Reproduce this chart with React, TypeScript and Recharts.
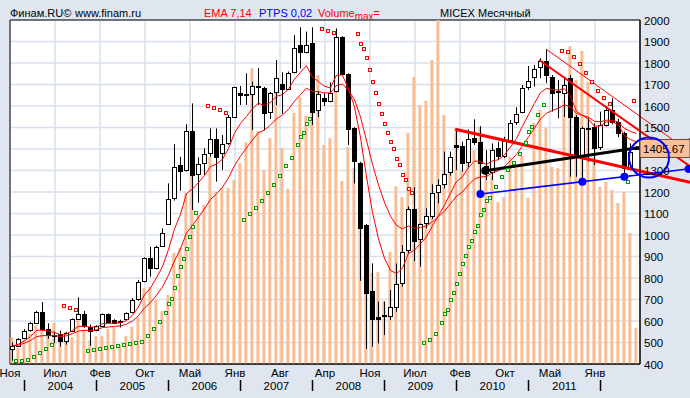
import React from "react";
import {
  ComposedChart,
  Bar,
  Line,
  XAxis,
  YAxis,
  CartesianGrid,
  ReferenceLine,
  ReferenceDot,
  ReferenceArea,
} from "recharts";

const _ = null;

// MICEX monthly candles, Nov 2003 .. Jul 2012 (index 0 = Nov 2003)
const opens = [
  472, 485, 520, 557, 592, 640, 561, 535, 540, 505,
  552, 611, 633, 574, 558, 577, 631, 603, 602, 608,
  642, 701, 785, 892, 845, 949, 1051, 1171, 1324, 1302,
  1482, 1284, 1333, 1380, 1445, 1380, 1429, 1550, 1660, 1658,
  1654, 1690, 1682, 1570, 1663, 1701, 1680, 1756, 1884, 1850,
  1892, 1580, 1636, 1625, 1670, 1920, 1748, 1496, 1333, 1047,
  740, 617, 630, 625, 663, 775, 930, 1121, 982, 1054,
  1090, 1198, 1236, 1291, 1417, 1414, 1338, 1453, 1431, 1321,
  1295, 1403, 1367, 1442, 1527, 1574, 1687, 1734, 1780, 1811,
  1736, 1670, 1662, 1729, 1547, 1364, 1499, 1504, 1408, 1513,
  1581, 1527, 1473, 1318, 1398,
];
const highs = [
  500, 520, 562, 595, 647, 688, 589, 550, 555, 548,
  612, 710, 647, 583, 580, 635, 635, 608, 606, 640,
  707, 791, 896, 945, 950, 1031, 1240, 1423, 1364, 1515,
  1612, 1361, 1403, 1496, 1496, 1465, 1558, 1690, 1693, 1752,
  1713, 1777, 1689, 1665, 1814, 1757, 1760, 1930, 1966, 1946,
  1966, 1670, 1660, 1710, 1961, 1925, 1752, 1501, 1341, 1051,
  868, 690, 690, 744, 868, 953, 1132, 1222, 1054, 1124,
  1236, 1259, 1388, 1388, 1488, 1434, 1491, 1538, 1506, 1395,
  1426, 1434, 1457, 1535, 1594, 1698, 1786, 1791, 1822, 1864,
  1744, 1721, 1736, 1744, 1558, 1504, 1543, 1519, 1574, 1600,
  1636, 1540, 1481, 1426, 1414,
];
const lows = [
  415, 482, 515, 550, 586, 555, 518, 497, 481, 490,
  548, 605, 568, 485, 552, 572, 590, 585, 570, 605,
  636, 694, 780, 806, 840, 945, 1047, 1160, 1206, 1295,
  1116, 1150, 1279, 1364, 1248, 1302, 1419, 1545, 1605, 1605,
  1488, 1605, 1488, 1540, 1605, 1563, 1675, 1752, 1775, 1845,
  1512, 1548, 1600, 1617, 1664, 1745, 1419, 1240, 787, 470,
  481, 496, 535, 605, 643, 760, 915, 879, 853, 1031,
  1074, 1147, 1217, 1276, 1302, 1295, 1315, 1419, 1191, 1256,
  1256, 1349, 1357, 1434, 1512, 1566, 1674, 1690, 1730, 1706,
  1574, 1543, 1550, 1271, 1271, 1248, 1341, 1326, 1395, 1505,
  1515, 1455, 1264, 1302, 1395,
];
const closes = [
  484, 516, 552, 589, 640, 564, 536, 530, 505, 545,
  608, 633, 577, 555, 577, 631, 595, 592, 595, 636,
  698, 781, 892, 845, 943, 1008, 1166, 1315, 1300, 1482,
  1279, 1329, 1375, 1445, 1364, 1421, 1547, 1687, 1653, 1652,
  1693, 1692, 1569, 1659, 1729, 1677, 1752, 1868, 1850, 1882,
  1574, 1654, 1625, 1659, 1920, 1748, 1493, 1346, 1031, 732,
  609, 610, 622, 664, 771, 920, 1121, 974, 1050, 1087,
  1194, 1233, 1282, 1364, 1410, 1333, 1445, 1434, 1336, 1287,
  1395, 1367, 1437, 1520, 1563, 1682, 1718, 1771, 1811, 1742,
  1662, 1665, 1698, 1547, 1364, 1496, 1492, 1403, 1513, 1581,
  1527, 1473, 1310, 1388, 1405.67,
];

// EMA 7 and EMA 14
const ema7 = [
  484, 492, 507, 528, 556, 558, 552, 547, 536, 539,
  556, 575, 576, 571, 572, 587, 589, 590, 591, 602,
  626, 665, 722, 753, 800, 852, 931, 1027, 1095, 1192,
  1214, 1243, 1276, 1318, 1330, 1352, 1401, 1473, 1518, 1551,
  1587, 1613, 1602, 1616, 1645, 1653, 1678, 1725, 1756, 1788,
  1734, 1714, 1692, 1684, 1743, 1744, 1681, 1598, 1456, 1275,
  1108, 984, 893, 836, 820, 845, 914, 929, 959, 991,
  1042, 1090, 1138, 1194, 1248, 1270, 1313, 1344, 1342, 1328,
  1345, 1350, 1372, 1409, 1448, 1506, 1559, 1612, 1662, 1682,
  1677, 1674, 1680, 1647, 1576, 1556, 1540, 1506, 1508, 1526,
  1526, 1513, 1462, 1444, 1434,
];
const ema14 = [
  484, 488, 497, 509, 527, 532, 532, 532, 528, 531,
  541, 553, 556, 556, 559, 569, 572, 575, 577, 585,
  600, 624, 660, 685, 719, 758, 812, 879, 935, 1008,
  1044, 1082, 1121, 1165, 1191, 1222, 1265, 1321, 1366, 1404,
  1442, 1476, 1488, 1511, 1540, 1558, 1584, 1622, 1652, 1683,
  1668, 1667, 1661, 1661, 1695, 1702, 1674, 1631, 1551, 1442,
  1331, 1234, 1153, 1088, 1045, 1029, 1041, 1032, 1035, 1042,
  1062, 1085, 1111, 1145, 1180, 1200, 1233, 1260, 1270, 1272,
  1289, 1299, 1318, 1345, 1374, 1415, 1455, 1497, 1539, 1566,
  1579, 1590, 1605, 1597, 1566, 1557, 1548, 1529, 1527, 1534,
  1533, 1525, 1496, 1482, 1472,
];

// parabolic (PTPS 0,02): one dot per month, plus the extra in-between dots
const sarMain = [
  413, 413, 417, 431, 450, 468, 487, _, 668, 659,
  650, _, 459, 464, 468, 473, 478, 483, 487, 491,
  496, 504, 529, 561, 594, 636, 704, 808, 890, 989,
  1101, _, 1600, 1589, 1580, 1566, _, _, 1068, 1096,
  1124, 1157, 1194, 1231, 1273, 1320, 1357, 1418, 1473, 1538,
  _, 1958, 1947, 1938, _, _, _, 1933, 1864, 1766,
  1659, 1561, 1473, 1399, 1324, 1254, 1194, _, 496, 510,
  538, 589, 650, 729, 817, 901, 971, 1044, 1115, 1171,
  1222, 1268, 1301, 1333, 1375, 1430, 1502, 1557, 1606, _,
  _, 1854, 1850, 1826, 1795, 1752, 1710, 1668, 1635, 1609,
  _, _, 1245, 1623, _,
];
const sarHalf = [
  _, _, _, _, _, _, _, _, _, _,
  _, _, _, _, _, _, _, _, _, _,
  _, _, _, _, _, 678, 752, 850, 934, 1036,
  _, _, _, _, _, _, _, _, _, _,
  _, _, _, _, _, _, _, 1454, 1516, _,
  _, _, _, _, _, _, _, 1887, 1822, 1710,
  1608, 1515, 1431, 1352, 1278, 1214, _, _, _, _,
  _, 631, 698, 771, 864, 943, 1012, 1091, 1157, _,
  _, _, _, _, _, 1478, _, _, _, _,
  _, _, _, _, _, _, _, _, _, _,
  _, _, _, _, _,
];

// volume, % of the max month
const volume = [
  7.8, 4.7, 7.0, 8.7, 11.3, 10.8, 9.6, 11.9, 8.4, 9.3,
  7.8, 14.8, 10.2, 7.0, 8.1, 8.1, 10.2, 10.8, 5.5, 8.1,
  10.8, 13.4, 22.1, 22.4, 18.6, 15.4, 20.1, 32.3, 33.7, 49.7,
  62.2, 43.3, 46.2, 60.2, 50.0, 51.2, 51.2, 53.5, 58.4, 64.5,
  86.0, 67.7, 56.1, 65.7, 78.8, 62.8, 50.9, 73.0, 77.6, 72.1,
  73.8, 84.0, 63.7, 65.7, 79.1, 53.2, 63.1, 57.0, 39.5, 31.7,
  26.5, 26.7, 18.3, 32.6, 51.7, 48.5, 67.2, 83.4, 75.3, 76.5,
  88.4, 100, 72.4, 59.3, 68.6, 56.4, 65.1, 62.2, 68.9, 55.5,
  54.9, 47.1, 48.5, 60.2, 57.0, 60.5, 48.3, 70.1, 73.8, 68.6,
  57.3, 57.0, 76.7, 92.4, 82.6, 91.0, 82.0, 60.2, 51.5, 52.9,
  50.6, 46.8, 50.0, 38.1, 10.5,
];

const monthLabels = ["Ноя", "Июл", "Фев", "Окт", "Май", "Янв", "Авг", "Апр", "Ноя", "Июл", "Фев", "Окт", "Май", "Янв"];
const yearLabels = ["2004", "2005", "2006", "2007", "2008", "2009", "2010", "2011"];
const priceTicks = [400, 500, 600, 700, 800, 900, 1000, 1100, 1200, 1300, 1400, 1500, 1600, 1700, 1800, 1900, 2000];
const lastPrice = 1405.67;

// hand-drawn studies: (month index, price)
const neckline = [{ x: 73.8, y: 1492 }, { x: 112.95, y: 1245 }];
const blackTrend = [{ x: 78.8, y: 1299 }, { x: 112.95, y: 1442 }];
const blueTrend = [{ x: 78, y: 1191 }, { x: 112.95, y: 1308 }];
const channelMain = [{ x: 87.8, y: 1814 }, { x: 112.95, y: 1319 }];
const channelTop = [{ x: 89, y: 1864 }, { x: 112.95, y: 1385 }];
const blueAnchors = [{ x: 78, y: 1191 }, { x: 95, y: 1248 }, { x: 102, y: 1271 }, { x: 112.7, y: 1307 }];
const ringCenter = { x: 106.1, y: 1360 };

const FONT = "Arial, 'Liberation Sans', sans-serif";
const FS = 11.5;
const HFS = 11;
const X_MIN = -0.4;
const X_MAX = 104.6;
const monthTicks = monthLabels.map((m, k) => X_MIN + 7.5 * k);
const yearSeps = yearLabels.map((y, k) => 2 + 12 * k).concat([98]);
const yearMids = yearLabels.map((y, k) => 8 + 12 * k);
const yearTicks = [...yearSeps, ...yearMids].sort((a, b) => a - b);

const data = closes.map((c, i) => ({
  i,
  open: opens[i],
  high: highs[i],
  low: lows[i],
  close: c,
  ema7: ema7[i],
  ema14: ema14[i],
  sar: sarMain[i],
  sarHalf: sarHalf[i],
  vol: volume[i],
}));

const crisp = (v: number) => Math.round(v) + 0.5;

function Candle(props: any) {
  const { x, y, width, height, payload } = props;
  if (x == null || y == null) return <g />;
  const { open, close, high, low } = payload;
  const span = high - low || 1;
  const top = Math.min(y, y + height);
  const h = Math.abs(height);
  const py = (v: number) => top + ((high - v) / span) * h;
  const cx = crisp(x + width / 2);
  const up = close >= open;
  const b1 = crisp(py(Math.max(open, close)));
  const b2 = crisp(py(Math.min(open, close)));
  return (
    <g>
      <line x1={cx} x2={cx} y1={top} y2={top + h} stroke="#000" strokeWidth={1} />
      <rect
        x={cx - 2}
        y={b1}
        width={4}
        height={Math.max(b2 - b1, 1)}
        fill={up ? "#fff" : "#000"}
        stroke="#000"
        strokeWidth={1}
      />
    </g>
  );
}

function sarDot(shift: number, name: string) {
  return (p: any) => {
    const key = `${name}-${p.index}`;
    if (p.value == null || p.cy == null || isNaN(p.cy)) return <g key={key} />;
    const above = p.value > p.payload.close;
    return (
      <rect
        key={key}
        x={Math.round(p.cx + shift) - 1.5}
        y={Math.round(p.cy) - 1.5}
        width={3}
        height={3}
        fill="#fff"
        stroke={above ? "#ff0000" : "#00a000"}
        strokeWidth={1}
      />
    );
  };
}

function MonthTick(props: any) {
  const { x, y, payload } = props;
  const k = monthTicks.indexOf(payload.value);
  return (
    <text x={x} y={y + 12.5} textAnchor="middle" fontSize={FS} fontFamily={FONT} fill="#000">
      {monthLabels[k]}
    </text>
  );
}

function YearTick(props: any) {
  const { x, y, payload } = props;
  const v = payload.value;
  if ((v - 2) % 12 === 0) {
    return <line x1={crisp(x)} x2={crisp(x)} y1={y + 2} y2={y + 13} stroke="#000" strokeWidth={1.5} />;
  }
  return (
    <text x={x} y={y + 12} textAnchor="middle" fontSize={FS} fontFamily={FONT} fill="#000">
      {yearLabels[(v - 8) / 12]}
    </text>
  );
}

function PriceTick(props: any) {
  const { x, y, payload } = props;
  // the last-price box sits over this label
  if (Math.abs(payload.value - lastPrice) < 50) return <g />;
  return (
    <text x={x + 4} y={y + 4.5} textAnchor="start" fontSize={FS} fontFamily={FONT} fill="#000">
      {payload.value}
    </text>
  );
}

function PriceBox(props: any) {
  const { cx, cy } = props;
  if (cx == null || cy == null) return <g />;
  return (
    <g>
      <rect x={cx} y={Math.round(cy) - 8.5} width={50} height={18} fill="#f7bf9a" stroke="#6a4a30" strokeWidth={1} />
      <text x={cx + 3} y={Math.round(cy) + 5} fontSize={FS} fontFamily={FONT} fill="#000">
        {lastPrice.toFixed(2)}
      </text>
    </g>
  );
}

export default function App() {
  return (
    <div
      style={{
        position: "absolute",
        left: 0,
        top: 0,
        width: 690,
        height: 398,
        background: "#dfe6f0",
        fontFamily: FONT,
      }}
    >
      <svg width={690} height={24} style={{ position: "absolute", left: 0, top: 0 }}>
        <text x={10} y={17} fontSize={HFS} fontFamily={FONT} fill="#000">Финам.RU©</text>
        <text x={75} y={17} fontSize={HFS} fontFamily={FONT} fill="#000">www.finam.ru</text>
        <text x={204} y={17} fontSize={HFS} fontFamily={FONT} fill="#ff0000">EMA 7,14</text>
        <text x={259} y={17} fontSize={HFS} fontFamily={FONT} fill="#0000ff">PTPS 0,02</text>
        <text x={318} y={17} fontSize={HFS} fontFamily={FONT} fill="#ff0000">
          Volume
          <tspan fontSize={10} dy={3}>max</tspan>
          <tspan dy={-3}>=</tspan>
        </text>
        <text x={440} y={17} fontSize={HFS} fontFamily={FONT} fill="#000">MICEX Месячный</text>
      </svg>
      <div style={{ position: "absolute", left: 0, top: 0 }}>
        <ComposedChart width={690} height={398} data={data} margin={{ top: 20, right: 0, bottom: 0, left: 10 }}>
          <CartesianGrid fill="#fff" stroke="#d8e0ec" strokeWidth={1.5} />
          <XAxis
            dataKey="i"
            type="number"
            domain={[X_MIN, X_MAX]}
            ticks={monthTicks}
            interval={0}
            height={14}
            tickSize={0}
            tickMargin={0}
            tickLine={false}
            axisLine={{ stroke: "#000" }}
            tick={<MonthTick />}
            allowDataOverflow
          />
          <XAxis
            xAxisId="v"
            dataKey="i"
            type="number"
            domain={[X_MIN, X_MAX]}
            height={0}
            hide
            allowDataOverflow
          />
          <XAxis
            xAxisId="yr"
            dataKey="i"
            type="number"
            domain={[X_MIN, X_MAX]}
            ticks={yearTicks}
            interval={0}
            height={20}
            tickSize={0}
            tickMargin={0}
            tickLine={false}
            axisLine={false}
            tick={<YearTick />}
            allowDataOverflow
          />
          <YAxis
            orientation="right"
            domain={[400, 2000]}
            ticks={priceTicks}
            interval={0}
            width={50}
            tickSize={0}
            tickMargin={0}
            tickLine={false}
            axisLine={{ stroke: "#000" }}
            tick={<PriceTick />}
            allowDataOverflow
          />
          <YAxis yAxisId="vol" domain={[0, 100]} width={0} hide allowDataOverflow />

          <Bar xAxisId="v" yAxisId="vol" dataKey="vol" fill="#f9bd94" barSize={3} isAnimationActive={false} />
          <Bar
            dataKey={(d: any) => [d.low, d.high]}
            barSize={5}
            shape={<Candle />}
            isAnimationActive={false}
          />
          <Line dataKey="ema7" type="linear" stroke="#ff0000" strokeWidth={1} dot={false} activeDot={false} isAnimationActive={false} />
          <Line dataKey="ema14" type="linear" stroke="#ff0000" strokeWidth={1} dot={false} activeDot={false} isAnimationActive={false} />
          <Line dataKey="sar" stroke="none" dot={sarDot(4, "sar")} activeDot={false} isAnimationActive={false} />
          <Line dataKey="sarHalf" stroke="none" dot={sarDot(7, "sarh")} activeDot={false} isAnimationActive={false} />

          <ReferenceArea x1={X_MIN} x2={X_MAX} y1={400} y2={2000} fill="none" stroke="#000" strokeWidth={1} />

          <ReferenceLine segment={channelTop} stroke="#ff0000" strokeWidth={1} ifOverflow="visible" />
          <ReferenceLine segment={channelMain} stroke="#ff0000" strokeWidth={2} ifOverflow="visible" />
          <ReferenceLine segment={neckline} stroke="#ff0000" strokeWidth={3} ifOverflow="visible" />
          <ReferenceLine segment={blueTrend} stroke="#0000ff" strokeWidth={1.5} ifOverflow="visible" />
          <ReferenceDot x={X_MAX} y={lastPrice} ifOverflow="visible" shape={<PriceBox />} />
          <ReferenceLine segment={blackTrend} stroke="#000" strokeWidth={3} ifOverflow="visible" />
          <ReferenceDot x={blackTrend[0].x} y={blackTrend[0].y} r={4} fill="#000" stroke="none" ifOverflow="visible" />
          {blueAnchors.map((p, k) => (
            <ReferenceDot key={k} x={p.x} y={p.y} r={4} fill="#0000ff" stroke="none" ifOverflow="visible" />
          ))}
          <ReferenceDot
            x={ringCenter.x}
            y={ringCenter.y}
            r={20}
            fill="none"
            stroke="#0000ff"
            strokeWidth={2}
            ifOverflow="visible"
          />
        </ComposedChart>
      </div>
    </div>
  );
}
